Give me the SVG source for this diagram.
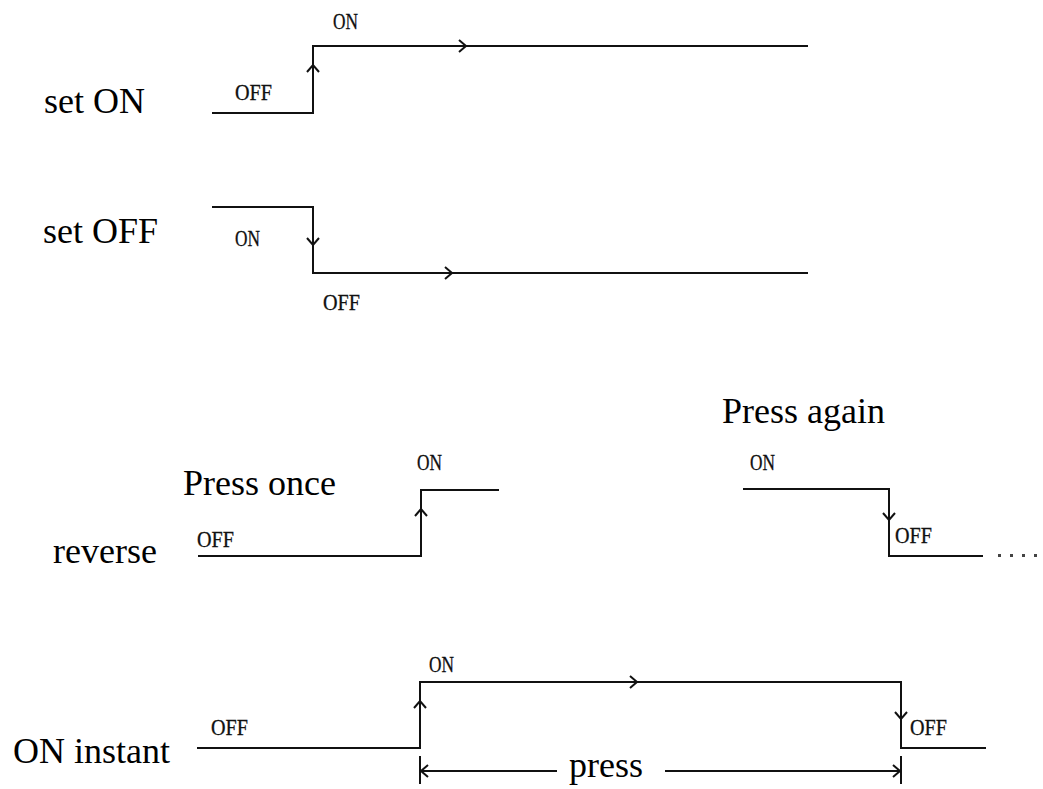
<svg xmlns="http://www.w3.org/2000/svg" xmlns:xlink="http://www.w3.org/1999/xlink" width="1043" height="789" viewBox="0 0 1043 789">
<style>
.sig{fill:none;stroke:#111;stroke-width:2;stroke-linejoin:miter}
.chev{fill:none;stroke:#111;stroke-width:2}
.big{font-family:"Liberation Serif","Times New Roman",serif;font-size:36px;fill:#000}
.lab{font-family:"Liberation Serif","Times New Roman",serif;font-size:23px;fill:#111;stroke:#111;stroke-width:0.3}
.dot{fill:#444}
</style>
<defs>
<path id="chev" class="chev" d="M-7,-6 L0,0 L-7,6"/>
</defs>
<rect width="1043" height="789" fill="#fff"/>

<g id="setON">
<text class="big" x="44" y="113">set ON</text>
<path class="sig" d="M212,113 H313 V46 H808"/>
<use xlink:href="#chev" transform="translate(313,65) rotate(-90)"/>
<use xlink:href="#chev" transform="translate(466,46)"/>
<text class="lab" x="333" y="29" textLength="25" lengthAdjust="spacingAndGlyphs">ON</text>
<text class="lab" x="235" y="100" textLength="37" lengthAdjust="spacingAndGlyphs">OFF</text>
</g>

<g id="setOFF">
<text class="big" x="43" y="243">set OFF</text>
<path class="sig" d="M212,207 H313 V273 H808"/>
<use xlink:href="#chev" transform="translate(313,245) rotate(90)"/>
<use xlink:href="#chev" transform="translate(452,273)"/>
<text class="lab" x="235" y="246" textLength="25" lengthAdjust="spacingAndGlyphs">ON</text>
<text class="lab" x="323" y="310" textLength="37" lengthAdjust="spacingAndGlyphs">OFF</text>
</g>

<g id="reverse">
<text class="big" x="53" y="563">reverse</text>
<text class="big" x="183" y="495">Press once</text>
<path class="sig" d="M198,556 H421 V490 H499"/>
<use xlink:href="#chev" transform="translate(421,509) rotate(-90)"/>
<text class="lab" x="417" y="470" textLength="25" lengthAdjust="spacingAndGlyphs">ON</text>
<text class="lab" x="197" y="547" textLength="37" lengthAdjust="spacingAndGlyphs">OFF</text>
<text class="big" x="722" y="423">Press again</text>
<path class="sig" d="M743,489 H889 V556 H983"/>
<use xlink:href="#chev" transform="translate(889,520) rotate(90)"/>
<text class="lab" x="750" y="470" textLength="25" lengthAdjust="spacingAndGlyphs">ON</text>
<text class="lab" x="895" y="543" textLength="37" lengthAdjust="spacingAndGlyphs">OFF</text>
<rect class="dot" x="998" y="554" width="3" height="3"/>
<rect class="dot" x="1010" y="554" width="3" height="3"/>
<rect class="dot" x="1022" y="554" width="3" height="3"/>
<rect class="dot" x="1034" y="554" width="3" height="3"/>
</g>

<g id="onInstant">
<text class="big" x="13" y="763">ON instant</text>
<path class="sig" d="M197,748 H420 V682 H901 V748 H986"/>
<use xlink:href="#chev" transform="translate(420,701) rotate(-90)"/>
<use xlink:href="#chev" transform="translate(637,682)"/>
<use xlink:href="#chev" transform="translate(901,719) rotate(90)"/>
<text class="lab" x="429" y="672" textLength="25" lengthAdjust="spacingAndGlyphs">ON</text>
<text class="lab" x="211" y="735" textLength="37" lengthAdjust="spacingAndGlyphs">OFF</text>
<text class="lab" x="910" y="735" textLength="37" lengthAdjust="spacingAndGlyphs">OFF</text>
</g>

<g id="connectors">
<path class="sig" d="M420,756 V784 M901,756 V784 M420,771 H557 M665,771 H901"/>
<use xlink:href="#chev" transform="translate(421,771) rotate(180)"/>
<use xlink:href="#chev" transform="translate(900,771)"/>
<text class="big" x="569" y="777">press</text>
</g>
</svg>
